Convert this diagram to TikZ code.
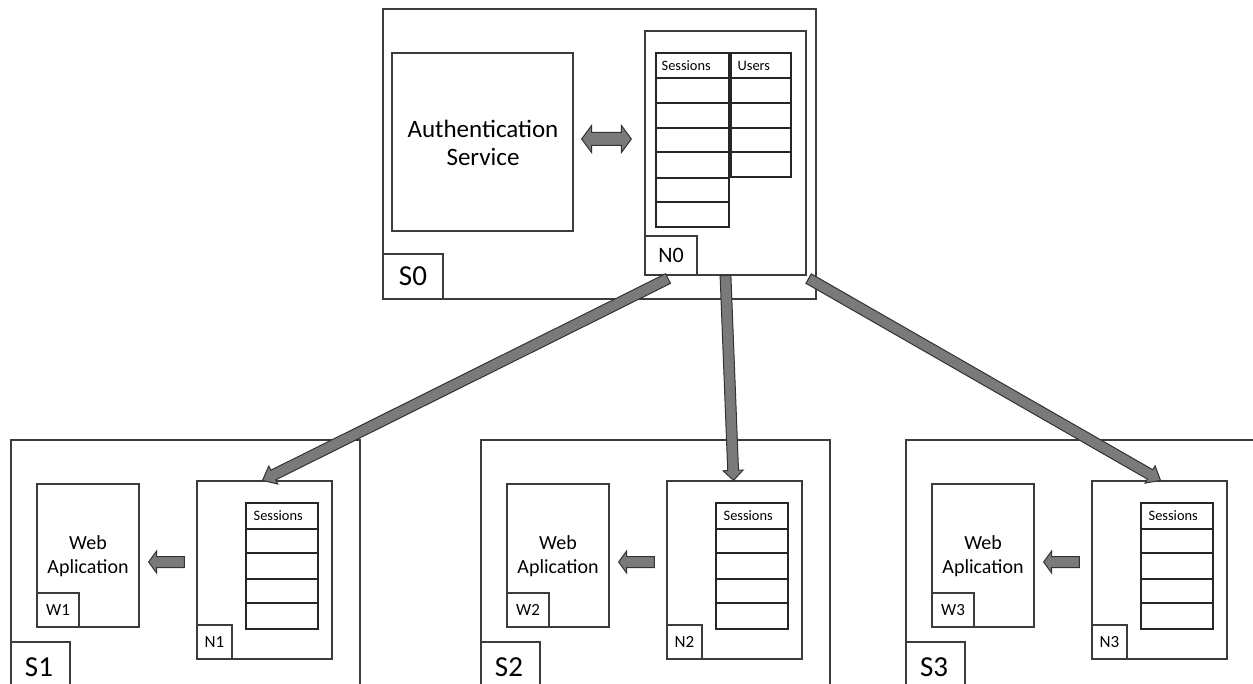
\documentclass[tikz,border=0pt]{standalone}
\usepackage{fontspec}
\setmainfont{Carlito}
\usetikzlibrary{calc,fit}

\definecolor{linegray}{HTML}{3C3C3C}
\definecolor{arrowgray}{HTML}{7A7A7A}

\tikzset{
  box/.style={draw=linegray, line width=0.6pt, inner sep=0pt, fill=white},
  cell/.style={draw=black!85, line width=0.75pt, inner sep=0pt},
  txt/.style={inner sep=0pt, text=black, align=center},
  fat/.style={fill=arrowgray, draw=black!80, line width=0.5pt, line join=miter},
}

% rectangle node spanning two corners
\newcommand\rectnode[6][box]{\node[#1, fit={(#3,#4) (#5,#6)}] (#2) {};}

% block arrow: from, to, shaft half-width, head half-width, head length
\newcommand\fatarrow[5]{%
  \coordinate (fa-h) at ($(#2)!#5!(#1)$);
  \draw[fat] ($(#1)!#3!90:(#2)$) -- ($(fa-h)!#3!90:(#2)$) -- ($(fa-h)!#4!90:(#2)$)
    -- (#2) -- ($(fa-h)!#4!-90:(#2)$) -- ($(fa-h)!#3!-90:(#2)$) -- ($(#1)!#3!-90:(#2)$) -- cycle;}

% double-headed block arrow: end, end, shaft half-width, head half-width, head length
\newcommand\dblarrow[5]{%
  \coordinate (da-h1) at ($(#1)!#5!(#2)$);
  \coordinate (da-h2) at ($(#2)!#5!(#1)$);
  \draw[fat] (#1) -- ($(da-h1)!#4!90:(#2)$) -- ($(da-h1)!#3!90:(#2)$) -- ($(da-h2)!#3!-90:(#1)$)
    -- ($(da-h2)!#4!-90:(#1)$) -- (#2) -- ($(da-h2)!#4!90:(#1)$) -- ($(da-h2)!#3!90:(#1)$)
    -- ($(da-h1)!#3!-90:(#2)$) -- ($(da-h1)!#4!-90:(#2)$) -- cycle;}

\begin{document}
\begin{tikzpicture}[x=0.5pt, y=-0.5pt]
\useasboundingbox (0,0) rectangle (1253,684);
\clip (0,0) rectangle (1253,684);
\fill[white] (0,0) rectangle (1253,684);

% ---------- central server S0 ----------
\rectnode{s0}{383}{9}{816}{299}
\rectnode{s0lbl}{383}{254}{443}{299}
\node[txt, font=\fontsize{14.5}{16}\selectfont] (s0txt) at (s0lbl.center) {S0};

\rectnode{auth}{392}{53}{573}{231}
\node[txt, font=\fontsize{12.5}{14}\selectfont] (authtxt) at (483,143) {Authentication\\Service};

\rectnode{n0}{645}{31}{806}{275}
\rectnode{n0lbl}{645}{236}{697}{275}
\node[txt, font=\fontsize{11}{12}\selectfont] (n0txt) at (n0lbl.center) {N0};

% sessions and users tables of N0
\foreach \a/\b [count=\k] in {53/78,78/103,103/128,128/152,152/178,178/202,202/227}
  \node[cell, fit={(656,\a) (729,\b)}] (tses\k) {};
\foreach \a/\b [count=\k] in {53/78,78/103,103/128,128/152,152/177}
  \node[cell, fit={(731,\a) (791,\b)}] (tusr\k) {};
\node[txt, anchor=west, font=\fontsize{7.2}{8}\selectfont] (tseshd) at ($(tses1.west)+(6,0)$) {Sessions};
\node[txt, anchor=west, font=\fontsize{7.2}{8}\selectfont] (tusrhd) at ($(tusr1.west)+(7,0)$) {Users};

% link between the service and the node
\coordinate (dl) at ($(auth.east)+(8,-3)$);
\coordinate (dr) at ($(n0.west |- dl)+(-13,0)$);
\dblarrow{dl}{dr}{3.25pt}{6.75pt}{5pt}

% ---------- client servers S1..S3 ----------
\foreach \i/\ox in {1/11, 2/481, 3/906} {
  \rectnode{s\i}{\ox}{440}{\ox+349}{700}
  \rectnode{s\i lbl}{\ox}{642}{\ox+59}{700}
  \node[txt, font=\fontsize{14.5}{16}\selectfont] (s\i txt) at (\ox+28,667) {S\i};

  \rectnode{w\i}{\ox+26}{484}{\ox+128}{627}
  \node[txt, font=\fontsize{10}{12}\selectfont] (w\i txt) at (\ox+77,556) {Web\\Aplication};
  \rectnode{w\i lbl}{\ox+26}{593}{\ox+68}{627}
  \node[txt, font=\fontsize{8.5}{10}\selectfont] (w\i lbltxt) at (w\i lbl.center) {W\i};

  \rectnode{n\i}{\ox+186}{481}{\ox+321}{659}
  \rectnode{n\i lbl}{\ox+186}{625}{\ox+221}{659}
  \node[txt, font=\fontsize{8.5}{10}\selectfont] (n\i lbltxt) at (n\i lbl.center) {N\i};

  \foreach \a/\b [count=\k] in {503/529,529/553,553/579,579/603,603/629}
    \node[cell, fit={(\ox+235,\a) (\ox+307,\b)}] (ses\i-\k) {};
  \node[txt, anchor=west, font=\fontsize{7.2}{8}\selectfont] (ses\i hd) at ($(ses\i-1.west)+(8,0)$) {Sessions};

  % node feeds the web application
  \coordinate (sa\i) at ($(n\i.west)+(-12,-8)$);
  \coordinate (sb\i) at ($(w\i.east |- sa\i)+(9,0)$);
  \fatarrow{sa\i}{sb\i}{2.75pt}{5.5pt}{4pt}
}

% ---------- replication from N0 to N1..N3 ----------
\coordinate (r1s) at ($(n0lbl.south)+(-3,3)$);
\coordinate (r1e) at ($(n1.north)+(-2,0)$);
\coordinate (r2s) at (n0.south);
\coordinate (r2e) at ($(n2.north)+(-1,0)$);
\coordinate (r3s) at ($(n0.south east)+(2,3)$);
\coordinate (r3e) at ($(n3.north)+(1,0)$);
\fatarrow{r1s}{r1e}{2.7pt}{5pt}{6pt}
\fatarrow{r2s}{r2e}{2.7pt}{5pt}{5pt}
\fatarrow{r3s}{r3e}{2.7pt}{5pt}{6pt}
\end{tikzpicture}
\end{document}
